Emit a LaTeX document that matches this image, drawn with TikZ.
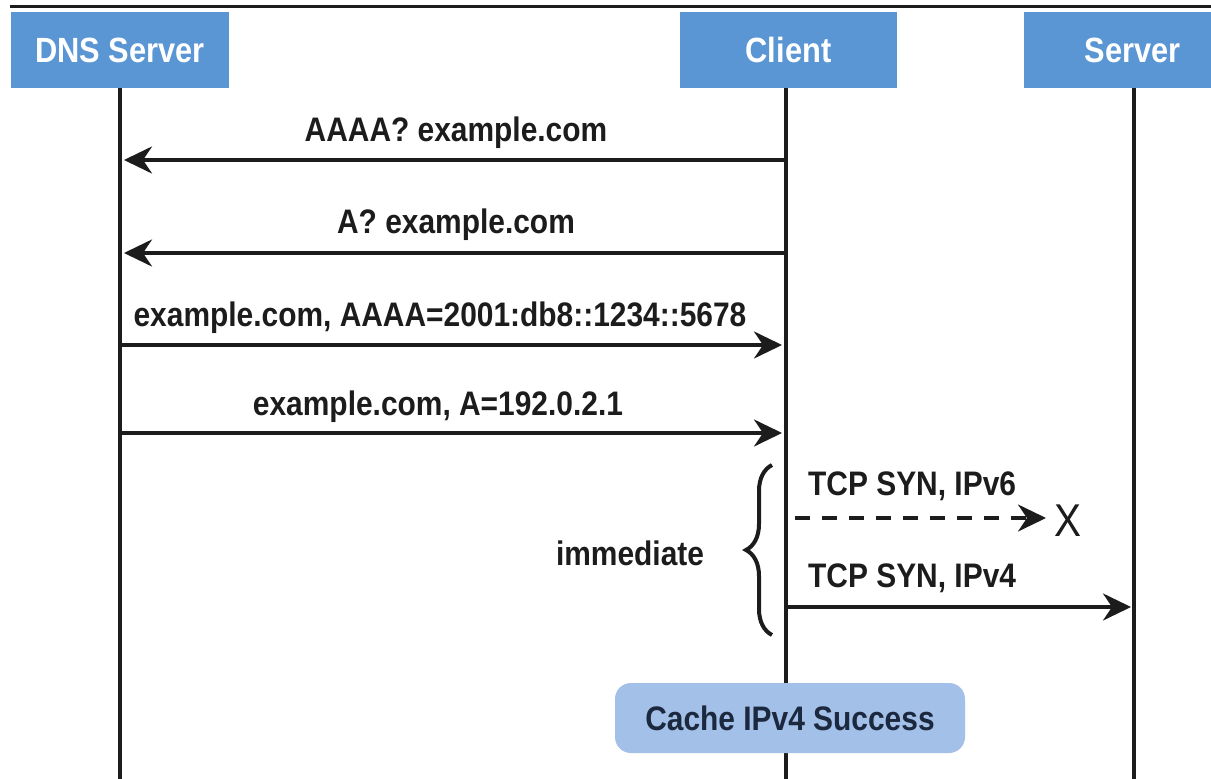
\documentclass[tikz,border=0pt]{standalone}
\usepackage{fontspec}
\setmainfont{Liberation Sans}[FakeStretch=0.88]
\usetikzlibrary{arrows.meta,decorations.pathreplacing,calc}
\definecolor{headblue}{RGB}{91,150,212}
\definecolor{cacheblue}{RGB}{162,192,232}
\definecolor{inkdark}{RGB}{28,28,28}
\definecolor{navytext}{RGB}{28,40,62}
\begin{document}
\begin{tikzpicture}[x=1pt,y=-1pt,
  header/.style={fill=headblue,draw=none,text=white,inner sep=0pt,
    font=\fontsize{35}{38}\selectfont\bfseries},
  lifeline/.style={line width=4.5pt,draw=inkdark},
  msg/.style={line width=3.4pt,draw=inkdark,
    -{Stealth[length=28pt,width=27pt,inset=9pt]}},
  dashmsg/.style={msg,dash pattern=on 15pt off 12pt},
  msglabel/.style={inner sep=0pt,text=inkdark,
    font=\fontsize{34}{36}\selectfont\bfseries},
  cachebox/.style={fill=cacheblue,draw=none,rounded corners=16pt,inner sep=0pt,
    text=navytext,font=\fontsize{34}{36}\selectfont\bfseries}
]
\useasboundingbox (0,0) rectangle (1211,779);
\fill[white] (0,0) rectangle (1211,779);

% rule across the top
\coordinate (ruleL) at (10,6);
\coordinate (ruleR) at (1211,6);
\draw[line width=3pt,draw=inkdark] (ruleL) -- (ruleR);

% participants
\node[header,minimum width=218pt,minimum height=76pt] (dns) at (120,50) {DNS Server};
\node[header,minimum width=217pt,minimum height=76pt] (client) at (788.5,50) {Client};
\node[header,minimum width=187pt,minimum height=76pt,text width=187pt,align=center] (server) at (1117.5,50) {\hspace*{30pt}Server};

% lifelines
\coordinate (dnsBot) at (120,779);
\coordinate (clientBot) at (786,779);
\coordinate (serverBot) at (1134,779);
\draw[lifeline] (120,88) -- (dnsBot);
\draw[lifeline] (786,88) -- (clientBot);
\draw[lifeline] (1134,88) -- (serverBot);

% message end points on the lifelines
\coordinate (c1) at (786,160);  \coordinate (d1) at (124,160);
\coordinate (c2) at (786,253);  \coordinate (d2) at (124,253);
\coordinate (d3) at (120,345);  \coordinate (c3) at (782,345);
\coordinate (d4) at (120,433);  \coordinate (c4) at (782,433);
\coordinate (c5) at (795,518);  \coordinate (x5) at (1046,518);
\coordinate (c6) at (786,607);  \coordinate (s6) at (1131,607);

% DNS queries and answers
\draw[msg] (c1) -- (d1);
\node[msglabel] (m1) at (456,133) {AAAA? example.com};
\draw[msg] (c2) -- (d2);
\node[msglabel] (m2) at (456,225) {A? example.com};
\draw[msg] (d3) -- (c3);
\node[msglabel] (m3) at (440,318) {example.com, AAAA=2001:db8::1234::5678};
\draw[msg] (d4) -- (c4);
\node[msglabel] (m4) at (438,407) {example.com, A=192.0.2.1};

% connection attempts
\draw[dashmsg] (c5) -- (x5);
\node[inner sep=0pt,text=inkdark,font=\fontsize{46}{46}\selectfont\mdseries] (fail) at (1068,521) {X};
\node[msglabel,anchor=west] (m5) at (808,486) {TCP SYN, IPv6};
\draw[msg] (c6) -- (s6);
\node[msglabel,anchor=west] (m6) at (808,578) {TCP SYN, IPv4};

% both attempts are made at once
\coordinate (braceBot) at (772,635);
\coordinate (braceTop) at (772,465);
\draw[line width=4pt,draw=inkdark,decorate,
  decoration={brace,amplitude=26pt,aspect=0.5}] (braceBot) -- (braceTop);
\node[msglabel] (imm) at (630,553) {immediate};

% result
\node[cachebox,minimum width=350pt,minimum height=70pt] (cache) at (790,718) {Cache IPv4 Success};
\end{tikzpicture}
\end{document}
